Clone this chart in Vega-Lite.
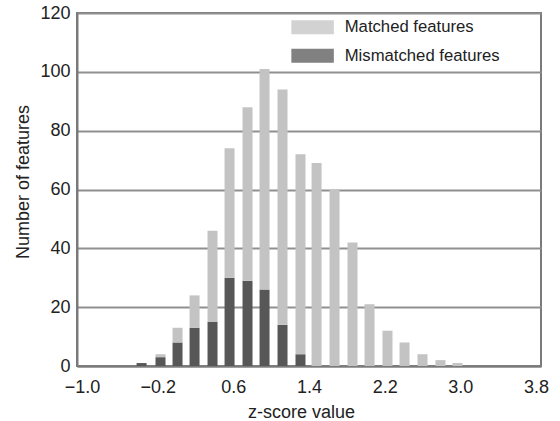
{
  "$schema": "https://vega.github.io/schema/vega-lite/v6.json",
  "width": 464,
  "height": 353,
  "autosize": {"type": "none"},
  "padding": {"left": 77, "top": 13, "right": 19, "bottom": 55},
  "background": "white",
  "config": {
    "font": "Liberation Sans",
    "view": {"stroke": "#7a7a7a", "strokeWidth": 2},
    "axis": {
      "labelFont": "Liberation Sans",
      "titleFont": "Liberation Sans",
      "labelColor": "#222222",
      "titleColor": "#222222",
      "labelFontSize": 18,
      "titleFontSize": 18,
      "titleFontWeight": "normal",
      "domainColor": "#7a7a7a",
      "domainWidth": 2,
      "ticks": false,
      "labelFlush": false,
      "labelOverlap": false
    },
    "legend": {"labelFont": "Liberation Sans"}
  },
  "data": {
    "values": [
      {"z": -0.37, "type": "Mismatched features", "n": 1, "rank": 1},
      {"z": -0.17, "type": "Mismatched features", "n": 3, "rank": 1},
      {"z": 0.01, "type": "Mismatched features", "n": 8, "rank": 1},
      {"z": 0.19, "type": "Mismatched features", "n": 13, "rank": 1},
      {"z": 0.38, "type": "Mismatched features", "n": 15, "rank": 1},
      {"z": 0.56, "type": "Mismatched features", "n": 30, "rank": 1},
      {"z": 0.75, "type": "Mismatched features", "n": 29, "rank": 1},
      {"z": 0.93, "type": "Mismatched features", "n": 26, "rank": 1},
      {"z": 1.12, "type": "Mismatched features", "n": 14, "rank": 1},
      {"z": 1.31, "type": "Mismatched features", "n": 4, "rank": 1},
      {"z": -0.17, "type": "Matched features", "n": 1, "rank": 2},
      {"z": 0.01, "type": "Matched features", "n": 5, "rank": 2},
      {"z": 0.19, "type": "Matched features", "n": 11, "rank": 2},
      {"z": 0.38, "type": "Matched features", "n": 31, "rank": 2},
      {"z": 0.56, "type": "Matched features", "n": 44, "rank": 2},
      {"z": 0.75, "type": "Matched features", "n": 59, "rank": 2},
      {"z": 0.93, "type": "Matched features", "n": 75, "rank": 2},
      {"z": 1.12, "type": "Matched features", "n": 80, "rank": 2},
      {"z": 1.31, "type": "Matched features", "n": 68, "rank": 2},
      {"z": 1.48, "type": "Matched features", "n": 69, "rank": 2},
      {"z": 1.67, "type": "Matched features", "n": 60, "rank": 2},
      {"z": 1.86, "type": "Matched features", "n": 42, "rank": 2},
      {"z": 2.04, "type": "Matched features", "n": 21, "rank": 2},
      {"z": 2.23, "type": "Matched features", "n": 12, "rank": 2},
      {"z": 2.41, "type": "Matched features", "n": 8, "rank": 2},
      {"z": 2.6, "type": "Matched features", "n": 4, "rank": 2},
      {"z": 2.79, "type": "Matched features", "n": 2, "rank": 2},
      {"z": 2.97, "type": "Matched features", "n": 1, "rank": 2}
    ]
  },
  "mark": {"type": "bar", "width": 10},
  "encoding": {
    "x": {
      "field": "z",
      "type": "quantitative",
      "scale": {"domain": [-1.0, 3.8], "nice": false, "zero": false},
      "axis": {
        "values": [-1.0, -0.2, 0.6, 1.4, 2.2, 3.0, 3.8],
        "format": ".1f",
        "grid": false,
        "labelPadding": 12,
        "title": "z-score value",
        "titleX": 224,
        "titleY": 51,
        "titleAlign": "center",
        "titleBaseline": "alphabetic"
      }
    },
    "y": {
      "field": "n",
      "type": "quantitative",
      "stack": "zero",
      "scale": {"domain": [0, 120], "nice": false},
      "axis": {
        "values": [0, 20, 40, 60, 80, 100, 120],
        "grid": true,
        "gridColor": "#8f8f8f",
        "gridWidth": 2,
        "labelPadding": 7,
        "title": "Number of features",
        "titleAngle": -90,
        "titleX": -48.5,
        "titleY": 168.5,
        "titleAlign": "center",
        "titleBaseline": "alphabetic"
      }
    },
    "color": {
      "field": "type",
      "type": "nominal",
      "scale": {"domain": ["Matched features", "Mismatched features"], "range": ["#c3c3c3", "#575757"]},
      "legend": {
        "title": null,
        "orient": "none",
        "legendX": 213,
        "legendY": 6,
        "padding": 0,
        "symbolType": "M-1,-1H5.07V1H-1Z",
        "symbolSize": 196,
        "symbolStrokeWidth": 0,
        "symbolOpacity": 0.75,
        "labelOffset": 38,
        "labelFontSize": 16.7,
        "labelColor": "#222222",
        "rowPadding": 10.5,
        "labelLimit": 300
      }
    },
    "order": {"field": "rank", "type": "quantitative"}
  }
}
